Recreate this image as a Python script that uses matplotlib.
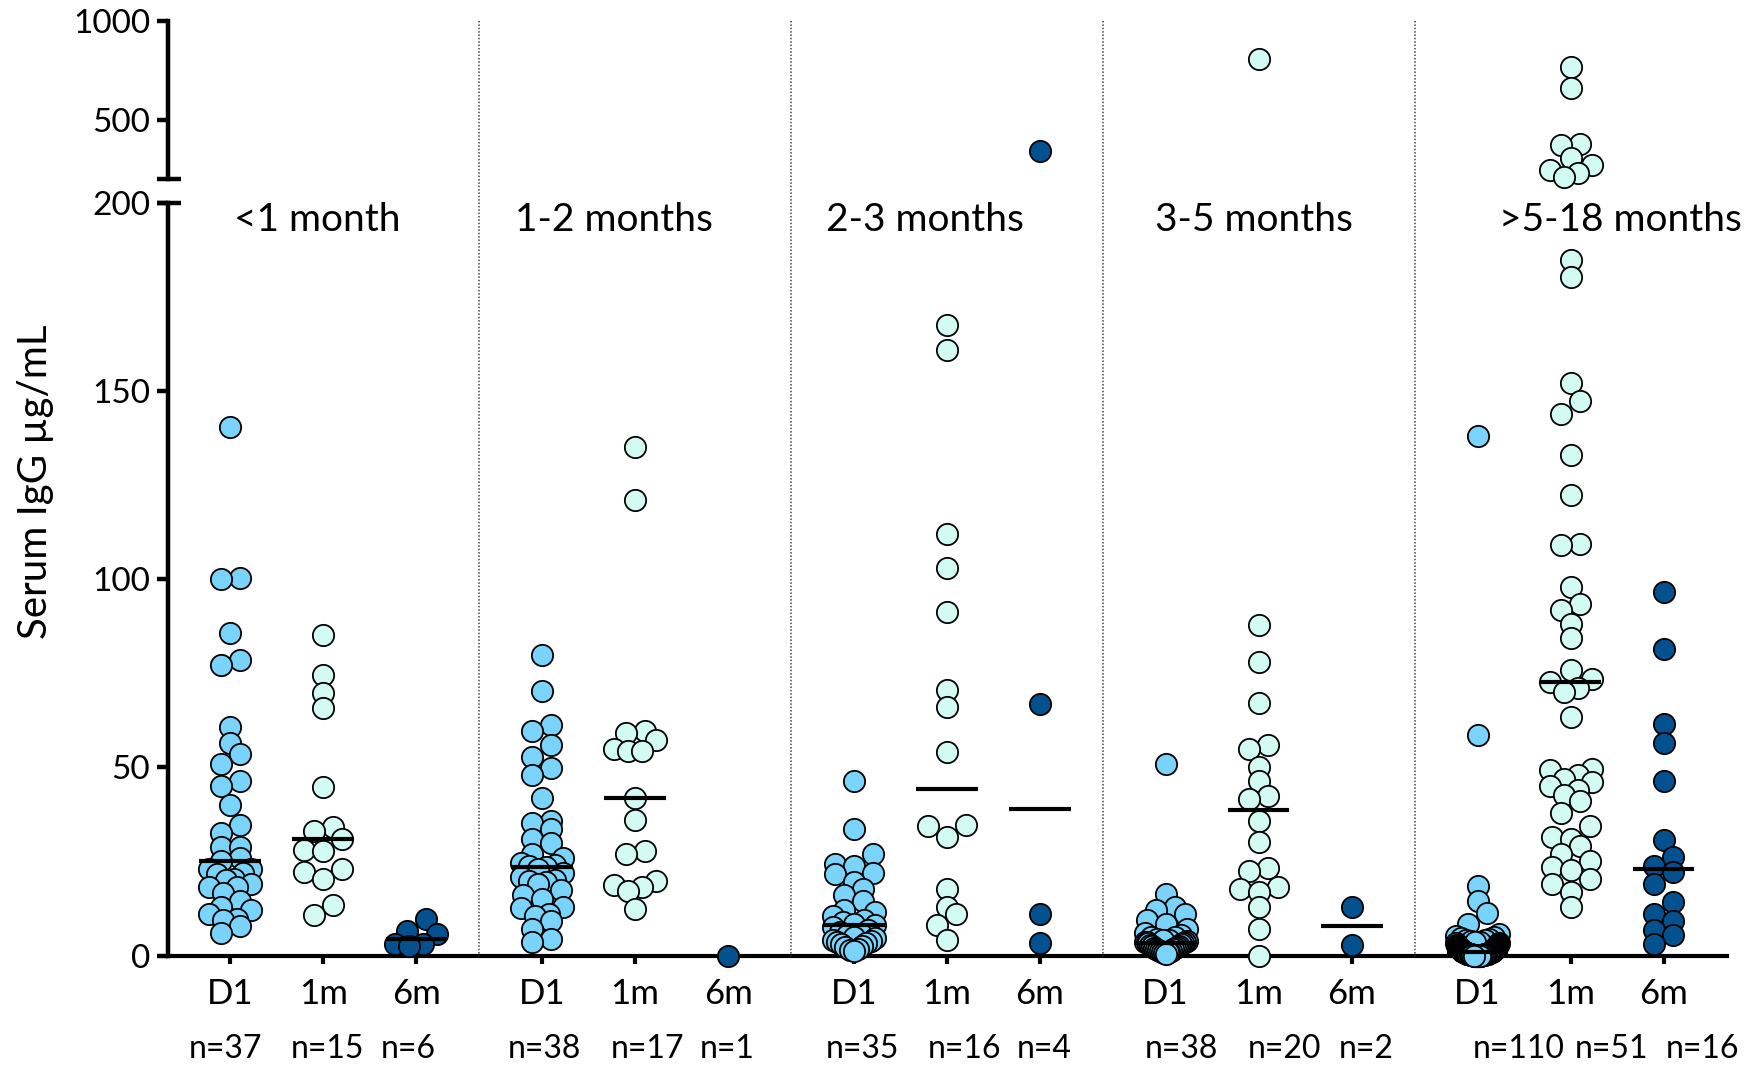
import numpy as np
import matplotlib
matplotlib.use("Agg")
import matplotlib.pyplot as plt
from matplotlib.lines import Line2D
from matplotlib import transforms

plt.rcParams['font.family'] = ['Lato', 'DejaVu Sans']

# ---- data: serum IgG (ug/mL) per age group and sampling time ----
age_groups = ['<1 month', '1-2 months', '2-3 months', '3-5 months', '>5-18 months']
timepoints = ['D1', '1m', '6m']

lt1_d1 = [140.5, 100.3, 100.1, 85.7, 78.6, 77.3, 60.8, 56.4, 53.5, 50.9, 46.5, 45.1, 40.1,
          34.8, 32.7, 28.9, 28.9, 26.0, 25.0, 23.0, 23.0, 22.0, 21.7, 20.4, 20.0, 19.0, 18.1,
          18.1, 16.5, 14.6, 13.0, 12.0, 11.0, 9.7, 9.5, 7.8, 5.9]
lt1_1m = [85.2, 74.7, 69.9, 65.8, 44.9, 34.2, 33.2, 31.1, 28.1, 27.8, 23.0, 22.1, 20.4, 13.3, 10.7]
lt1_6m = [9.7, 6.4, 5.6, 3.1, 3.0, 2.6]

m12_d1 = [79.9, 70.2, 61.2, 59.7, 56.1, 52.9, 49.8, 48.0, 42.0, 35.8, 35.2, 33.6, 31.0, 30.0,
          27.0, 26.0, 24.5, 24.0, 23.8, 23.5, 23.0, 22.0, 21.0, 20.0, 19.9, 19.5, 19.0, 17.5,
          16.0, 15.0, 13.0, 12.5, 11.0, 10.5, 9.3, 7.0, 4.4, 3.5]
m12_1m = [135.2, 121.2, 59.7, 59.2, 57.3, 54.9, 54.3, 54.3, 42.0, 35.9, 27.8, 26.9, 19.7,
          18.7, 18.2, 17.1, 12.4]
m12_6m = [0.0]

m23_d1 = [46.5, 33.7, 27.0, 24.2, 23.8, 22.0, 21.7, 19.5, 17.8, 16.0, 14.6, 12.0, 11.5, 10.5,
          9.5, 9.0, 8.5, 8.0, 7.5, 6.8, 6.2, 5.8, 5.5, 5.0, 4.6, 4.2, 3.8, 3.5, 3.2, 3.0, 2.6,
          2.2, 1.8, 1.5, 1.2]
m23_1m = [167.7, 161.1, 112.0, 102.9, 91.3, 70.5, 66.0, 54.0, 34.7, 34.4, 31.6, 17.8, 12.8,
          11.1, 8.1, 4.2]
m23_6m = [340.0, 66.8, 11.1, 3.2]

m35_d1 = [50.9, 16.3, 13.0, 12.0, 11.0, 9.5, 8.5, 7.0, 6.0, 5.5, 5.0, 4.8, 4.5, 4.2, 4.0, 3.8,
          3.7, 3.6, 3.5, 3.4, 3.2, 3.0, 2.8, 2.6, 2.5, 2.3, 2.1, 2.0, 1.8, 1.6, 1.5, 1.3, 1.2,
          1.0, 0.9, 0.8, 0.6, 0.5]
m35_1m = [804.0, 87.9, 78.1, 67.2, 56.0, 54.9, 50.2, 46.4, 42.4, 41.6, 35.7, 30.3, 23.3, 22.4,
          18.3, 17.8, 17.0, 12.8, 7.0, 0.0]
m35_6m = [12.8, 2.8]

m518_d1 = [138.0, 58.5, 18.5, 14.5, 11.3, 8.3, 5.6, 5.2, 4.9, 4.6, 4.4, 4.2, 4.0, 3.8, 3.6,
           3.5, 3.3, 3.2, 3.0, 2.9, 2.8, 2.7, 2.6, 2.5, 2.4, 2.3, 2.2, 2.1, 2.0, 2.0, 1.9, 1.8,
           1.8, 1.7, 1.6, 1.6, 1.5, 1.5, 1.4, 1.4, 1.3, 1.3, 1.2, 1.2, 1.1, 1.1, 1.0, 1.0, 1.0,
           0.9, 0.9, 0.9, 0.8, 0.8, 0.8, 0.8, 0.7, 0.7, 0.7, 0.7, 0.6, 0.6, 0.6, 0.6, 0.5, 0.5,
           0.5, 0.5, 0.5, 0.4, 0.4, 0.4, 0.4, 0.4, 0.3, 0.3, 0.3, 0.3, 0.3, 0.3, 0.2, 0.2, 0.2,
           0.2, 0.2, 0.2, 0.2, 0.1, 0.1, 0.1, 0.1, 0.1, 0.1, 0.1, 0.1, 0.0, 0.0, 0.0, 0.0, 0.0,
           0.0, 0.0, 0.0, 0.0, 0.0, 0.0, 0.0, 0.0, 0.0, 0.0]
m518_1m = [767.0, 661.0, 378.0, 372.0, 305.0, 271.0, 245.0, 228.0, 212.0, 184.8, 180.4, 152.1,
           147.4, 144.1, 133.0, 122.5, 109.5, 109.2, 98.1, 93.4, 91.8, 88.1, 84.3, 76.0, 73.5,
           72.6, 71.0, 70.1, 63.5, 49.7, 49.4, 48.0, 46.9, 46.0, 45.2, 44.0, 42.7, 41.1, 38.0,
           34.4, 31.4, 31.1, 29.0, 26.9, 25.0, 23.6, 22.8, 20.3, 19.0, 17.0, 12.8]
m518_6m = [96.7, 81.4, 61.5, 56.4, 46.5, 30.7, 26.1, 23.9, 22.1, 19.0, 14.2, 11.1, 9.3, 6.8,
           5.5, 3.1]

series = [
    [lt1_d1, lt1_1m, lt1_6m],
    [m12_d1, m12_1m, m12_6m],
    [m23_d1, m23_1m, m23_6m],
    [m35_d1, m35_1m, m35_6m],
    [m518_d1, m518_1m, m518_6m],
]

colors = ['#7AD3FA', '#D2FBF3', '#03528F']

# ---- layout ----
GROUP_STEP = 3.35          # category units between age groups
UNIT_PX = 93.0             # one category unit in pixels
label_shift = [-0.06, -0.23, -0.24, -0.05, 0.54]
n_shift = [-0.05, 0.05, -0.09, 0.03, 0.13, -0.01, 0.09, 0.19, 0.05,
           0.17, 0.28, 0.15, 0.44, 0.44, 0.42]


def to_px(v):
    v = np.asarray(v, float)
    return np.where(v <= 200, v * 3.76, 776 + (v - 200) * 0.198)


def swarm(values, row_h=13.0, step=19.0, half=21.0):
    # spread points of similar height sideways, GraphPad style
    vals = np.asarray(values, float)
    order = np.argsort(vals, kind='stable')
    ypx = to_px(vals)
    offs = np.zeros(len(vals))
    i = 0
    while i < len(order):
        j = i
        while j + 1 < len(order) and ypx[order[j + 1]] - ypx[order[i]] < row_h:
            j += 1
        row = order[i:j + 1]
        k = len(row)
        if k > 1:
            s = min(step, 2 * half / (k - 1))
            slots = (np.arange(k) - (k - 1) / 2) * s
            slots = slots[np.argsort(np.abs(slots), kind='stable')]
            offs[row] = slots
        i = j + 1
    return offs / UNIT_PX


W, H = 1744, 1070
fig = plt.figure(figsize=(W / 100, H / 100), dpi=100)
left, right = 168 / W, 1727 / W
y0, y200, y200t, y1000 = 955.5, 203.3, 179.0, 20.7
ax = fig.add_axes([left, 1 - y0 / H, right - left, (y0 - y200) / H])
axt = fig.add_axes([left, 1 - y200t / H, right - left, (y200t - y1000) / H])

xmin, xmax = -0.667, 4 * GROUP_STEP + 2 + 0.68
for a in (ax, axt):
    a.set_xlim(xmin, xmax)
    a.patch.set_alpha(0)
    a.spines['top'].set_visible(False)
    a.spines['right'].set_visible(False)
    a.spines['left'].set_linewidth(3.2)
ax.set_ylim(0, 200)
axt.set_ylim(200, 1000)
axt.spines['bottom'].set_visible(False)
ax.spines['bottom'].set_linewidth(3.0)

ax.set_yticks([0, 50, 100, 150, 200])
axt.set_yticks([500, 1000])
for a in (ax, axt):
    a.tick_params(axis='y', length=8, width=3.2, labelsize=24, pad=5)
axt.set_xticks([])

xpos = []
for g in range(len(age_groups)):
    for t in range(len(timepoints)):
        xpos.append(g * GROUP_STEP + t)
ax.set_xticks(xpos)
ax.set_xticklabels(timepoints * len(age_groups))
ax.tick_params(axis='x', length=6, width=3.0, labelsize=25, pad=10)

n_trans = transforms.blended_transform_factory(ax.transData, fig.transFigure)
for g, grp in enumerate(series):
    for t, vals in enumerate(grp):
        vals = np.asarray(vals, float)
        x = g * GROUP_STEP + t + swarm(vals)
        low = vals <= 200
        for a, m in ((ax, low), (axt, ~low)):
            if m.any():
                a.scatter(x[m], vals[m], s=235, c=colors[t], edgecolors='black',
                          linewidths=1.3, zorder=3, clip_on=False)
        if len(vals) > 1:
            med = np.median(vals)
            xc = g * GROUP_STEP + t
            ax.plot([xc - 0.33, xc + 0.33], [med, med], color='black', lw=3.0,
                    solid_capstyle='butt', zorder=4)
        k = g * 3 + t
        ax.text(xpos[k] + n_shift[k], 1 - 1049 / H, f'n={len(vals)}', fontsize=23,
                ha='center', va='center', transform=n_trans)

    ax.text(g * GROUP_STEP + 1 + label_shift[g], 195.6, age_groups[g], fontsize=28,
            ha='center', va='center')

# dotted separators between age groups
blend = transforms.blended_transform_factory(ax.transData, fig.transFigure)
for g in range(len(age_groups) - 1):
    xs = g * GROUP_STEP + 2 + (GROUP_STEP - 2) / 2
    fig.add_artist(Line2D([xs, xs], [1 - y1000 / H, 1 - y0 / H], transform=blend,
                          color='#444444', lw=1.1, linestyle=(0, (1, 1.2))))

# axis break caps
for yy in (y200t, y200):
    fig.add_artist(Line2D([157 / W, 181 / W], [1 - yy / H, 1 - yy / H],
                          transform=fig.transFigure, color='black', lw=3.2,
                          solid_capstyle='butt'))

fig.text(36 / W, 1 - 482 / H, 'Serum IgG µg/mL', rotation=90, fontsize=29,
         ha='center', va='center')

fig.savefig('out.png', dpi=100)
